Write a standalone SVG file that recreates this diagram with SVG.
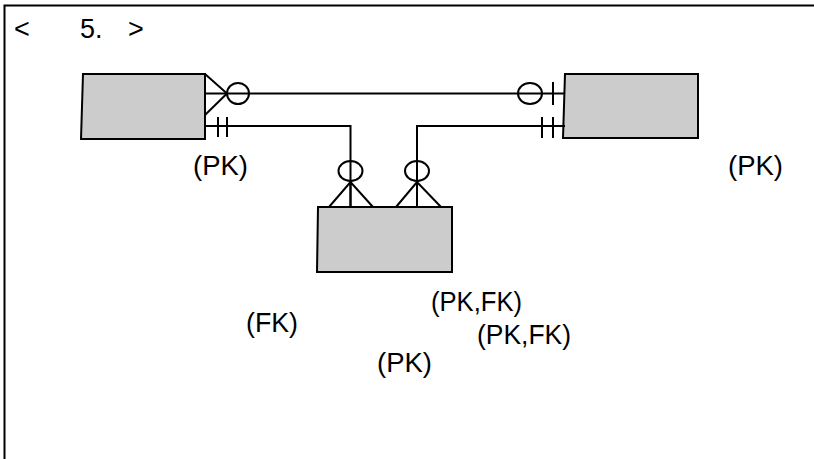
<svg xmlns="http://www.w3.org/2000/svg" width="814" height="459" viewBox="0 0 814 459">
<style>
.ent{fill:#cccccc;stroke:#000;stroke-width:2}
.ln{fill:none;stroke:#000;stroke-width:2}
.t{font-family:"Liberation Sans",Arial,sans-serif;font-size:27px;fill:#000}
.ttl{font-family:"Liberation Sans",Arial,sans-serif;font-size:27px;fill:#000}
</style>
<rect x="0" y="0" width="814" height="459" fill="#fff"/>
<g id="frame">
<path class="ln" d="M4.5,470 V5.5 H830"/>
<text class="ttl" y="38"><tspan x="14">&lt;</tspan><tspan x="80">5.</tspan><tspan x="128">&gt;</tspan></text>
</g>
<g id="entity-left">
<path class="ent" d="M83,74 H205 V139 H81 Z"/>
<text class="t" x="193" y="175" textLength="55" lengthAdjust="spacingAndGlyphs">(PK)</text>
</g>
<g id="entity-right">
<path class="ent" d="M565,74 H698 V138 H563 Z"/>
<text class="t" x="728" y="175" textLength="55" lengthAdjust="spacingAndGlyphs">(PK)</text>
</g>
<g id="entity-middle">
<path class="ent" d="M318,207 H452 V272 H317 Z"/>
<text class="t" x="246" y="332" textLength="52" lengthAdjust="spacingAndGlyphs">(FK)</text>
<text class="t" x="431" y="311" textLength="91" lengthAdjust="spacingAndGlyphs">(PK,FK)</text>
<text class="t" x="477" y="344" textLength="94" lengthAdjust="spacingAndGlyphs">(PK,FK)</text>
<text class="t" x="377" y="372" textLength="55" lengthAdjust="spacingAndGlyphs">(PK)</text>
</g>
<g id="connectors">
<path class="ln" d="M205,93.5 H565"/>
<path class="ln" d="M205,74 L227,93.5 L205,115"/>
<ellipse class="ln" cx="238" cy="93.5" rx="11" ry="10.5" fill="#fff"/>
<ellipse class="ln" cx="530" cy="93.5" rx="12" ry="10.5" fill="#fff"/>
<path class="ln" d="M553,82 V105"/>
<path class="ln" d="M205,126 H350.5 V207"/>
<path class="ln" d="M218,117 V137 M227,117 V137"/>
<ellipse class="ln" cx="350.5" cy="171" rx="12" ry="10" fill="#fff"/>
<path class="ln" d="M329,207 L350.5,182 L373,207 M350.5,181 V207"/>
<path class="ln" d="M565,126 H417 V207"/>
<path class="ln" d="M542,117 V138 M553,117 V138"/>
<ellipse class="ln" cx="417" cy="171" rx="12" ry="10" fill="#fff"/>
<path class="ln" d="M396,207 L417,182 L441,207 M417,181 V207"/>
</g>
</svg>
